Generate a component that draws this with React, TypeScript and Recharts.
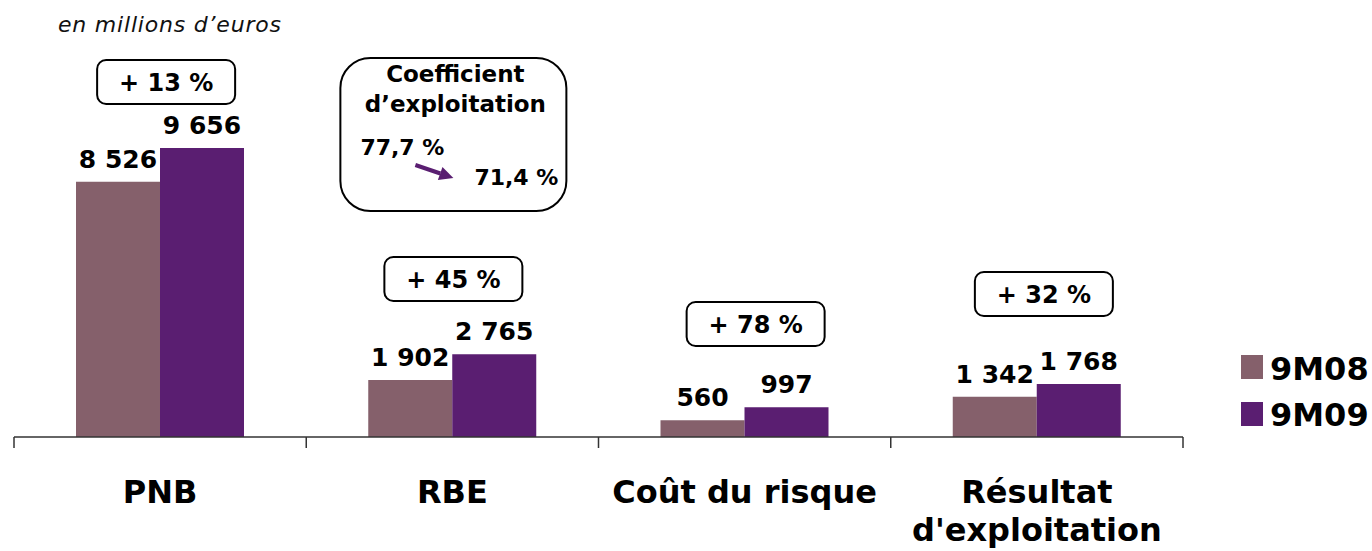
import { BarChart, Bar, XAxis, YAxis, LabelList, ReferenceDot } from 'recharts';

const categories = ['PNB', 'RBE', 'Coût du risque', "Résultat\nd'exploitation"];
const values9M08 = [8526, 1902, 560, 1342];
const values9M09 = [9656, 2765, 997, 1768];
const growthLabels = ['+ 13 %', '+ 45 %', '+ 78 %', '+ 32 %'];
const seriesNames = ['9M08', '9M09'];
const coefTitle = ['Coefficient', 'd’exploitation'];
const coefBefore = '77,7 %';
const coefAfter = '71,4 %';

const W = 1372;
const H = 551;
const MARGIN = { top: 18, right: 189, bottom: 14, left: 14 };
const HALF_BAND = (W - MARGIN.left - MARGIN.right) / categories.length / 2;
const FONT = '"DejaVu Sans", Verdana, sans-serif';
const COLORS = ['#85606B', '#5A1E71'];

// where the growth boxes sit (y in data units, small x nudges in px)
const BOX_LEVEL = [11861, 5279, 3775, 4778];
const BOX_DX = [6, 1, 11, 7];
const COEF_LEVEL = 10124;

const data = categories.map((name, i) => ({
  name,
  a: values9M08[i],
  b: values9M09[i],
}));

const fmt = (v: number) => String(v).replace(/\B(?=(\d{3})+(?!\d))/g, ' ');

function CategoryTick(props: any) {
  const { x, y, payload, index } = props;
  const lines = String(payload.value).split('\n');
  return (
    <g>
      <line x1={x - HALF_BAND} x2={x - HALF_BAND} y1={y} y2={y + 11} stroke="#333" strokeWidth={1.5} />
      {index === categories.length - 1 && (
        <line x1={x + HALF_BAND} x2={x + HALF_BAND} y1={y} y2={y + 11} stroke="#333" strokeWidth={1.5} />
      )}
      <text x={x} y={y + 66} textAnchor="middle" fontSize={32} fontWeight="bold" fill="#000" fontFamily={FONT}>
        {lines.map((l, i) => (
          <tspan key={i} x={x} dy={i === 0 ? 0 : 38}>
            {l}
          </tspan>
        ))}
      </text>
    </g>
  );
}

function GrowthBox({ cx, cy, text, dx }: { cx: number; cy: number; text: string; dx: number }) {
  const x = cx + dx;
  return (
    <g>
      <rect x={x - 69} y={cy - 22} width={138} height={44} rx={9} fill="#fff" stroke="#000" strokeWidth={2} />
      <text x={x} y={cy + 9} textAnchor="middle" fontSize={24} fontWeight="bold" fill="#000" fontFamily={FONT}>
        {text}
      </text>
    </g>
  );
}

function CoefBox({ cx, cy }: { cx: number; cy: number }) {
  const t = { fontWeight: 'bold', fill: '#000', fontFamily: FONT } as const;
  return (
    <g>
      <rect x={cx - 112} y={cy - 76} width={226} height={153} rx={30} fill="#fff" stroke="#000" strokeWidth={2} />
      <text x={cx + 3} y={cy - 52} textAnchor="middle" fontSize={23} {...t}>
        {coefTitle[0]}
      </text>
      <text x={cx + 3} y={cy - 22} textAnchor="middle" fontSize={23} {...t}>
        {coefTitle[1]}
      </text>
      <text x={cx - 92} y={cy + 21} fontSize={22} {...t}>
        {coefBefore}
      </text>
      <line x1={cx - 37} y1={cy + 31} x2={cx - 12} y2={cy + 39.5} stroke={COLORS[1]} strokeWidth={4} />
      <polygon
        points={`${cx + 1},${cy + 44} ${cx - 14.5},${cy + 46.1} ${cx - 9.9},${cy + 32.9}`}
        fill={COLORS[1]}
      />
      <text x={cx + 22} y={cy + 51} fontSize={22} {...t}>
        {coefAfter}
      </text>
    </g>
  );
}

export default function App() {
  const labelStyle = { fill: '#000', fontSize: 25, fontWeight: 'bold', fontFamily: FONT };
  return (
    <div style={{ position: 'absolute', left: 0, top: 0, width: W, height: H, background: '#fff' }}>
      <BarChart width={W} height={H} data={data} margin={MARGIN} barGap={0}>
        <XAxis
          dataKey="name"
          height={100}
          interval={0}
          tickSize={0}
          tickMargin={0}
          tickLine={false}
          axisLine={{ stroke: '#333', strokeWidth: 1.5 }}
          tick={<CategoryTick />}
        />
        <YAxis hide domain={[0, 14000]} />
        <Bar dataKey="a" fill={COLORS[0]} barSize={84} isAnimationActive={false}>
          <LabelList dataKey="a" position="top" offset={14} formatter={fmt} style={labelStyle} />
        </Bar>
        <Bar dataKey="b" fill={COLORS[1]} barSize={84} isAnimationActive={false}>
          <LabelList dataKey="b" position="top" offset={14} formatter={fmt} style={labelStyle} />
        </Bar>
        {categories.map((c, i) => (
          <ReferenceDot
            key={c}
            x={c}
            y={BOX_LEVEL[i]}
            shape={(p: any) => <GrowthBox cx={p.cx} cy={p.cy} text={growthLabels[i]} dx={BOX_DX[i]} />}
          />
        ))}
        <ReferenceDot x={categories[1]} y={COEF_LEVEL} shape={(p: any) => <CoefBox cx={p.cx} cy={p.cy} />} />
      </BarChart>
      <svg
        width={W}
        height={H}
        style={{ position: 'absolute', left: 0, top: 0, pointerEvents: 'none' }}
      >
        <text x={58} y={32} fontSize={22} fontStyle="italic" fill="#111" fontFamily={FONT} letterSpacing={0.8}>
          en millions d’euros
        </text>
        {seriesNames.map((s, i) => (
          <g key={s}>
            <rect x={1241} y={355 + i * 47} width={22} height={24} fill={COLORS[i]} />
            <text x={1270} y={380 + i * 46} fontSize={32} fontWeight="bold" fill="#000" fontFamily={FONT}>
              {s}
            </text>
          </g>
        ))}
      </svg>
    </div>
  );
}
